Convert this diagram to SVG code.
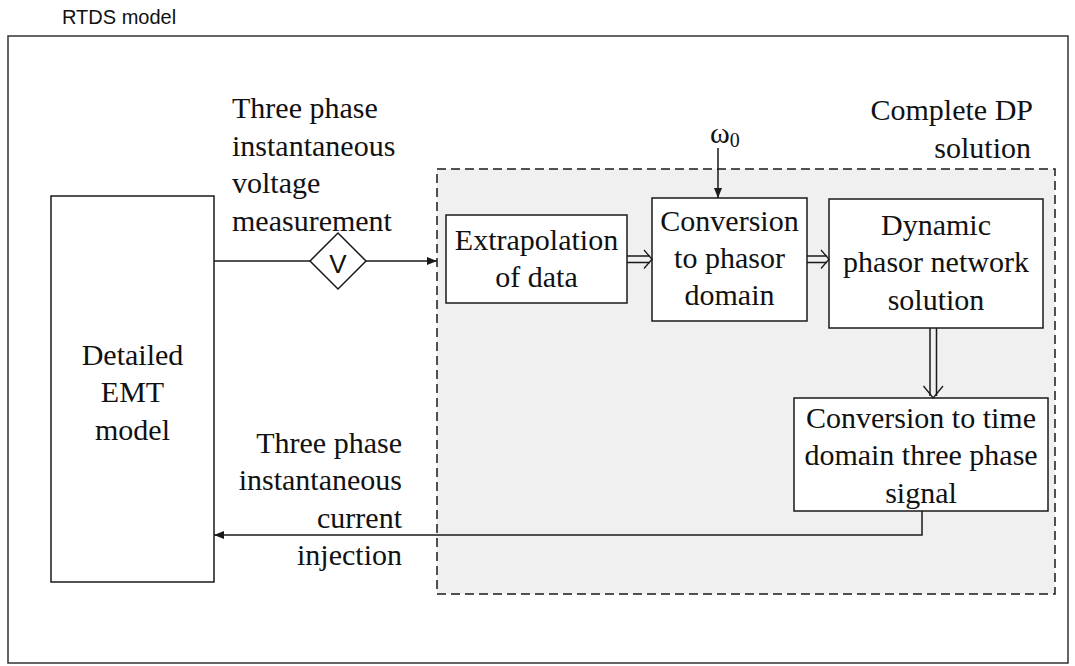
<svg xmlns="http://www.w3.org/2000/svg" width="1075" height="666" viewBox="0 0 1075 666">
  <style>
    .box { fill: #ffffff; stroke: #1a1a1a; stroke-width: 1.5; }
    .line { fill: none; stroke: #1a1a1a; stroke-width: 1.5; }
    .chev { fill: none; stroke: #1a1a1a; stroke-width: 1.3; }
    .serif { font-family: "Liberation Serif", "Times New Roman", serif; font-size: 30px; fill: #111; }
    .sans { font-family: "Liberation Sans", Arial, sans-serif; fill: #111; }
    .mid { text-anchor: middle; }
    .end { text-anchor: end; }
  </style>
  <defs>
    <marker id="tip" viewBox="0 0 10 10" refX="10" refY="5" markerWidth="10" markerHeight="10" markerUnits="userSpaceOnUse" orient="auto">
      <path d="M0,1 L10,5 L0,9 Z" fill="#1a1a1a"/>
    </marker>
  </defs>

  <!-- outer RTDS frame -->
  <g id="rtds-frame">
    <rect x="8" y="36" width="1060" height="627" fill="#ffffff" stroke="#333" stroke-width="1.5"/>
    <text class="sans" x="62" y="24" font-size="20">RTDS model</text>
  </g>

  <!-- complete DP solution region -->
  <g id="dp-region">
    <rect x="437" y="169" width="618" height="425" fill="#f0f0f0" stroke="#1a1a1a" stroke-width="1.5" stroke-dasharray="9,5"/>
    <text class="serif end" x="1033" y="120">Complete DP</text>
    <text class="serif end" x="1031" y="158">solution</text>
  </g>

  <!-- EMT side -->
  <g id="emt-model">
    <rect class="box" x="51" y="196" width="163" height="386"/>
    <text class="serif mid" x="132.5" y="365">Detailed</text>
    <text class="serif mid" x="132.5" y="402">EMT</text>
    <text class="serif mid" x="132.5" y="440">model</text>
  </g>

  <g id="voltage-meter">
    <polygon class="box" points="310,261 338,233 366,261 338,289"/>
    <text class="sans mid" x="338" y="273" font-size="26">V</text>
  </g>

  <g id="voltage-label">
    <text class="serif" x="232" y="118">Three phase</text>
    <text class="serif" x="232" y="156">instantaneous</text>
    <text class="serif" x="232" y="193">voltage</text>
    <text class="serif" x="232" y="231">measurement</text>
  </g>

  <g id="current-label">
    <text class="serif end" x="402" y="453">Three phase</text>
    <text class="serif end" x="402" y="490">instantaneous</text>
    <text class="serif end" x="402" y="528">current</text>
    <text class="serif end" x="402" y="565">injection</text>
  </g>

  <!-- DP processing blocks -->
  <g id="extrapolation">
    <rect class="box" x="446" y="215" width="181" height="88"/>
    <text class="serif mid" x="536.5" y="250">Extrapolation</text>
    <text class="serif mid" x="536.5" y="287">of data</text>
  </g>

  <g id="to-phasor">
    <rect class="box" x="652" y="198" width="155" height="123"/>
    <text class="serif mid" x="729.5" y="231">Conversion</text>
    <text class="serif mid" x="729.5" y="268">to phasor</text>
    <text class="serif mid" x="729.5" y="305">domain</text>
  </g>

  <g id="omega-label">
    <text class="serif" x="710" y="143" font-size="28">ω<tspan font-size="20" dy="4">0</tspan></text>
  </g>

  <g id="dp-network">
    <rect class="box" x="829" y="199" width="214" height="129"/>
    <text class="serif mid" x="936" y="235">Dynamic</text>
    <text class="serif mid" x="936" y="272">phasor network</text>
    <text class="serif mid" x="936" y="310">solution</text>
  </g>

  <g id="to-time">
    <rect class="box" x="794" y="398" width="254" height="113"/>
    <text class="serif mid" x="921" y="428">Conversion to time</text>
    <text class="serif mid" x="921" y="465">domain three phase</text>
    <text class="serif mid" x="921" y="503">signal</text>
  </g>

  <!-- connectors -->
  <g id="connectors">
    <!-- measured voltage into the DP region -->
    <line class="line" x1="214" y1="261" x2="310" y2="261"/>
    <line class="line" x1="366" y1="261" x2="437" y2="261" marker-end="url(#tip)"/>
    <!-- fundamental frequency input -->
    <line class="line" x1="718" y1="148" x2="718" y2="198" marker-end="url(#tip)"/>
    <!-- extrapolation to phasor conversion (vector signal) -->
    <line class="line" x1="627" y1="256" x2="650" y2="256"/>
    <line class="line" x1="627" y1="262.5" x2="650" y2="262.5"/>
    <polyline class="chev" points="644,250 652,259.2 644,268.5"/>
    <!-- phasor conversion to network solution -->
    <line class="line" x1="807" y1="256" x2="827" y2="256"/>
    <line class="line" x1="807" y1="262.5" x2="827" y2="262.5"/>
    <polyline class="chev" points="821,250 829,259.2 821,268.5"/>
    <!-- network solution to time-domain conversion -->
    <line class="line" x1="930" y1="328" x2="930" y2="396"/>
    <line class="line" x1="936.5" y1="328" x2="936.5" y2="396"/>
    <polyline class="chev" points="923.5,386 933.2,398 943,386"/>
    <!-- injected current back to the EMT model -->
    <polyline class="line" points="922,511 922,535 214,535" marker-end="url(#tip)"/>
  </g>
</svg>
